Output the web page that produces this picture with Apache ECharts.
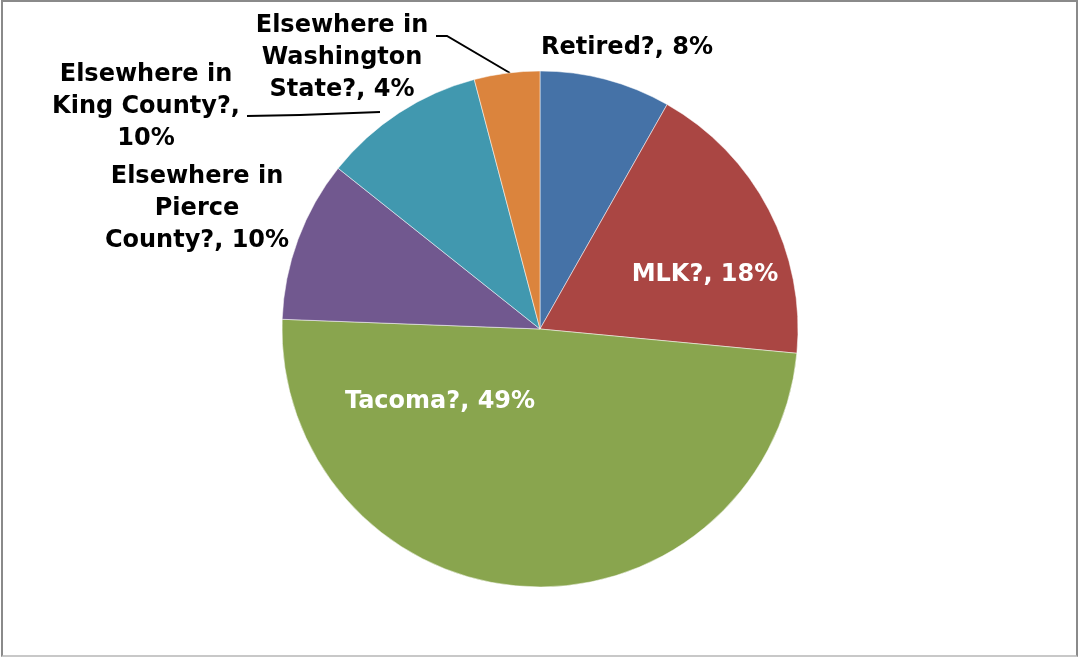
<!DOCTYPE html>
<html>
<head>
<meta charset="utf-8">
<script src="https://cdn.jsdelivr.net/npm/echarts@6/dist/echarts.min.js"></script>
<style>
html,body{margin:0;padding:0;background:#fff;}
#chart{position:absolute;left:0;top:0;width:1079px;height:657px;}
#frame{position:absolute;left:1px;top:0;width:1077px;height:657px;box-sizing:border-box;border:2px solid #8a8a8a;border-bottom-color:#c8c8c8;pointer-events:none;}
</style>
</head>
<body>
<div id="chart"></div>
<div id="frame"></div>
<script>
// Data
const categories = ['Retired?', 'MLK?', 'Tacoma?', 'Elsewhere in Pierce County?', 'Elsewhere in King County?', 'Elsewhere in Washington State?'];
const values = [8.2, 18.3, 49.1, 10.1, 10.2, 4.1];
const labelTemplates = ['Retired?, {p}', 'MLK?, {p}', 'Tacoma?, {p}', 'Elsewhere in\nPierce\nCounty?, {p}', 'Elsewhere in\nKing County?,\n{p}', 'Elsewhere in\nWashington\nState?, {p}'];
const colors = ['#4572A7', '#AA4643', '#89A54E', '#71588F', '#4198AF', '#DB843D'];

// Layout (styling only)
const labelPos = [[627, 48], [705, 275], [440, 402], [197, 209], [146, 107], [342, 58]];
const insideLabel = [false, true, true, false, false, false];
const leaderLines = [null, null, null, null, [[247, 116], [300, 115], [380, 112]], [[436, 36], [447, 36], [510, 73]]];

const chart = echarts.init(document.getElementById('chart'), null, {renderer: 'canvas'});
const data = categories.map((c, i) => ({
  name: c,
  value: values[i],
  itemStyle: {color: colors[i]},
  label: {color: insideLabel[i] ? '#ffffff' : '#000000'},
  labelLine: {show: !!leaderLines[i], lineStyle: {color: '#000000', width: 2}}
}));

chart.setOption({
  animation: false,
  series: [{
    type: 'pie',
    center: [540, 329],
    radius: 258,
    startAngle: 90,
    clockwise: true,
    avoidLabelOverlap: false,
    itemStyle: {borderColor: '#ffffff', borderWidth: 0.5},
    label: {
      show: true,
      position: 'outside',
      fontFamily: 'DejaVu Sans',
      fontWeight: 'bold',
      fontSize: 24,
      lineHeight: 32,
      align: 'center',
      formatter: p => labelTemplates[p.dataIndex].replace('{p}', Math.round(p.percent) + '%')
    },
    labelLine: {lineStyle: {color: '#000000', width: 2}, smooth: false},
    labelLayout: function (params) {
      const i = params.dataIndex;
      const out = {x: labelPos[i][0], y: labelPos[i][1], align: 'center', verticalAlign: 'middle'};
      if (leaderLines[i]) out.labelLinePoints = leaderLines[i];
      return out;
    },
    data: data
  }]
});
</script>
</body>
</html>
